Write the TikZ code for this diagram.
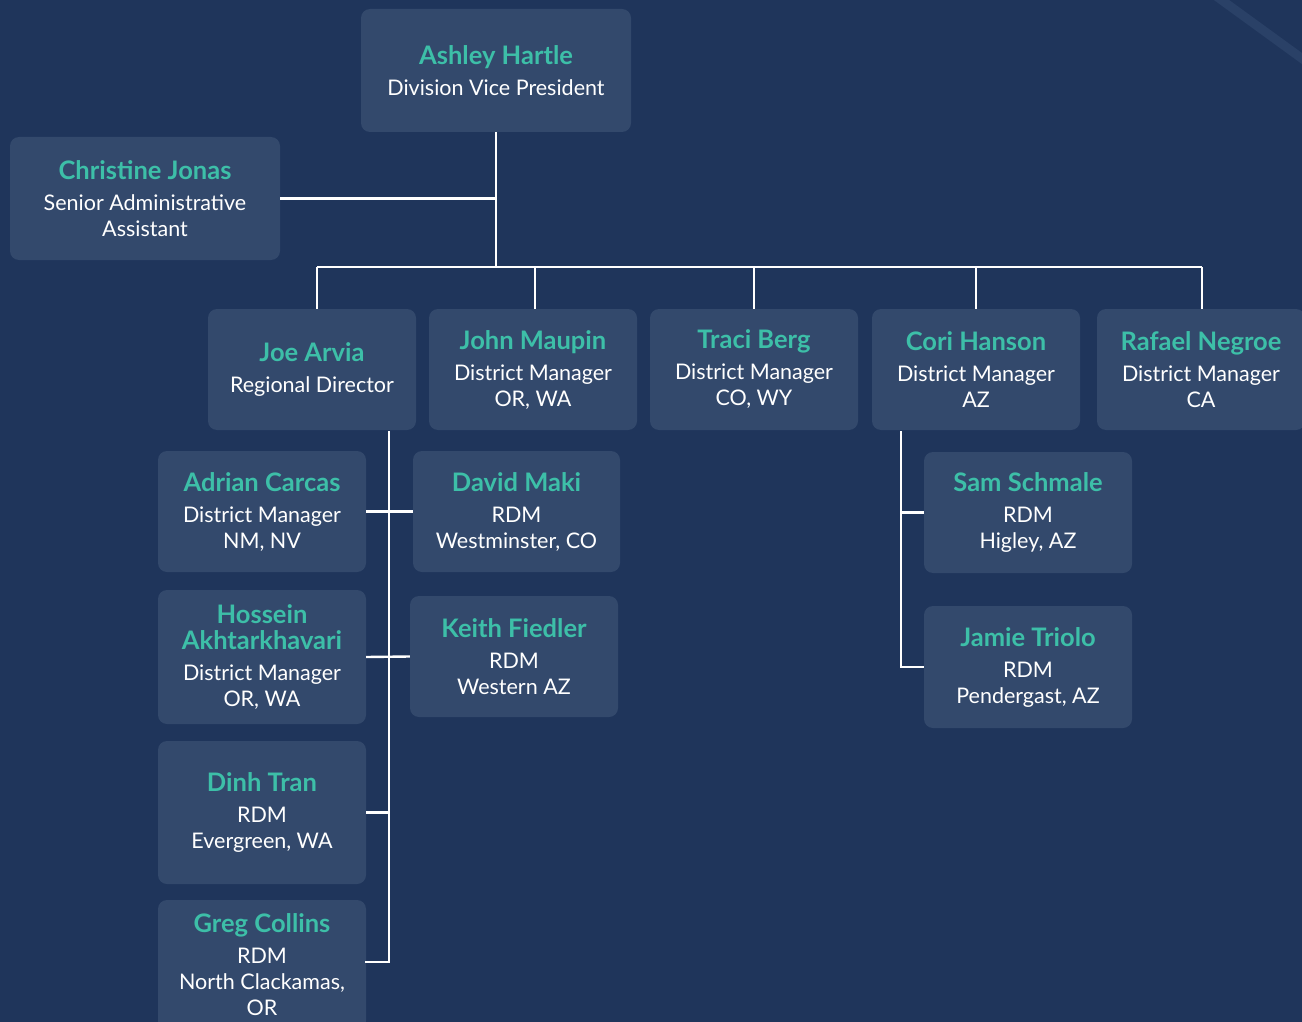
\documentclass[tikz,border=0pt]{standalone}
\usepackage{fontspec}
\setmainfont{Lato}
\definecolor{bgc}{HTML}{1F355B}
\definecolor{boxc}{HTML}{33496C}
\definecolor{namec}{HTML}{3DBFA8}
\definecolor{diagc}{HTML}{2A4167}
\newcommand\nmfont{\fontsize{25.5}{26}\selectfont\bfseries\color{namec}}
\newcommand\nm[1]{{\nmfont #1}\\[5pt]}
\begin{document}
\begin{tikzpicture}[x=1pt,y=-1pt,
  box/.style={rounded corners=9pt, fill=boxc, inner sep=0pt, align=center, text=white,
    font=\fontsize{21.5}{26}\selectfont, minimum width=208pt, minimum height=121pt},
  conn/.style={draw=white, line width=2.4pt}]
\useasboundingbox (0,0) rectangle (1302,1022);
\clip (0,0) rectangle (1302,1022);
\fill[bgc] (0,0) rectangle (1302,1022);
\draw[diagc, line width=9pt] (1205,-12) -- (1315,68);
% nodes
\node[box, minimum width=270pt, minimum height=123pt] (ashley) at (496,70.5) {\nm{Ashley Hartle}Division Vice President};
\node[box, minimum width=270pt, minimum height=123pt] (christine) at (145,198.5) {\nm{Christine Jonas}Senior Administrative\\Assistant};
\node[box] (joe) at (312,369.5) {\nm{Joe Arvia}Regional Director};
\node[box] (john) at (533,369.5) {\nm{John Maupin}District Manager\\OR, WA};
\node[box] (traci) at (754,369.5) {\nm{Traci Berg}District Manager\\CO, WY};
\node[box] (cori) at (976,369.5) {\nm{Cori Hanson}District Manager\\AZ};
\node[box] (rafael) at (1201,369.5) {\nm{Rafael Negroe}District Manager\\CA};
\node[box] (adrian) at (262,511.5) {\nm{Adrian Carcas}District Manager\\NM, NV};
\node[box, minimum width=207pt] (david) at (516.5,511.5) {\nm{David Maki}RDM\\Westminster, CO};
\node[box, minimum height=134pt] (hossein) at (262,657) {{\nmfont Hossein}\\\nm{Akhtarkhavari}District Manager\\OR, WA};
\node[box] (keith) at (514,656.5) {\nm{Keith Fiedler}RDM\\Western AZ};
\node[box, minimum height=143pt] (dinh) at (262,812.5) {\nm{Dinh Tran}RDM\\Evergreen, WA};
\node[box, minimum height=130pt] (greg) at (262,965) {\nm{Greg Collins}RDM\\North Clackamas,\\OR};
\node[box] (sam) at (1028,512.5) {\nm{Sam Schmale}RDM\\Higley, AZ};
\node[box, minimum height=122pt] (jamie) at (1028,667) {\nm{Jamie Triolo}RDM\\Pendergast, AZ};
% coordinates
\coordinate (busL) at (317,267);
\coordinate (busR) at (1202,267);
\coordinate (jtop) at (389,431);
\coordinate (jbot) at (389,962);
\coordinate (ctop) at (901,431);
\coordinate (jm) at (535,267);
% connectors
\draw[conn] (ashley.south) -- (ashley.south |- busL);
\draw[conn] (christine.east) -- (christine.east -| ashley.south);
\draw[conn] (busL) -- (busR);
\draw[conn] (busL) -- (busL |- joe.north);
\draw[conn] (jm) -- (jm |- john.north);
\draw[conn] (traci.north) -- (traci.north |- busL);
\draw[conn] (cori.north) -- (cori.north |- busL);
\draw[conn] (busR) -- (busR |- rafael.north);
\draw[conn] (jtop) -- (jbot);
\draw[conn] (adrian.east) -- (david.west);
\draw[conn] (hossein.east) -- (keith.west);
\draw[conn] (dinh.east) -- (dinh.east -| jtop);
\draw[conn, line cap=rect] (jbot) -- (jbot -| greg.east);
\draw[conn] (ctop) -- (ctop |- jamie.west) -- (jamie.west);
\draw[conn] (sam.west -| ctop) -- (sam.west);
\end{tikzpicture}
\end{document}
